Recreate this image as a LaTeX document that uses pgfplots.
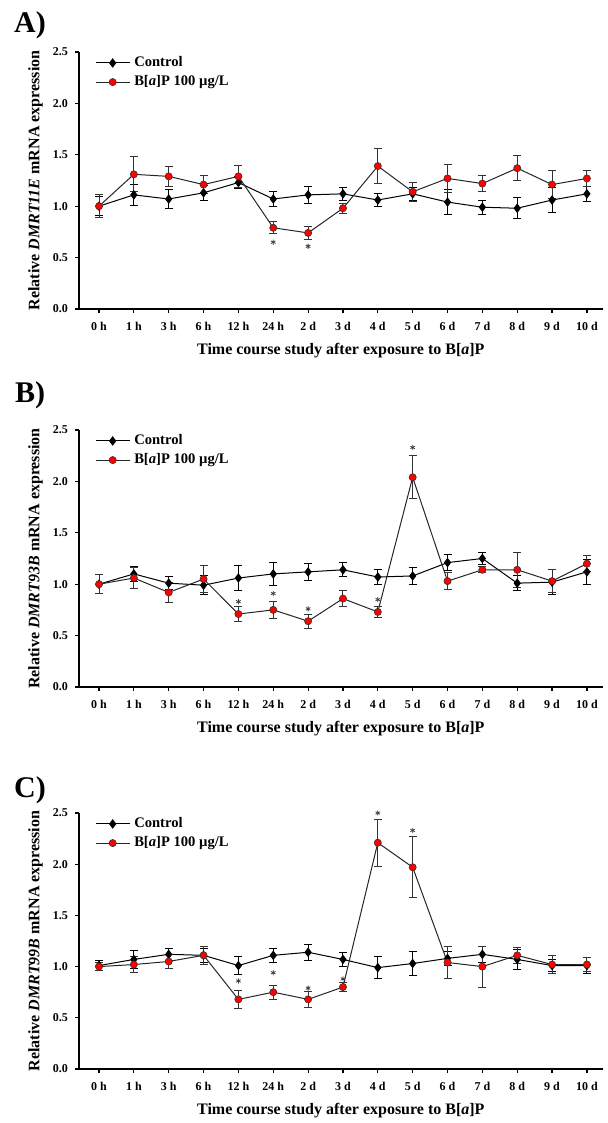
\documentclass[border=0pt]{standalone}
\usepackage{fontspec}
\setmainfont{Liberation Serif}
\usepackage{pgfplots}
\pgfplotsset{compat=1.18}
\usepackage{pgfplotstable}

\pgfplotstableread{
x  c     ce    r     re
0  1.00  0.09  1.00  0.11
1  1.11  0.10  1.31  0.17
2  1.07  0.09  1.29  0.10
3  1.13  0.07  1.21  0.09
4  1.23  0.06  1.29  0.11
5  1.07  0.07  0.79  0.06
6  1.11  0.08  0.74  0.06
7  1.12  0.06  0.98  0.05
8  1.06  0.06  1.39  0.17
9  1.12  0.06  1.14  0.09
10 1.04  0.12  1.27  0.14
11 0.99  0.07  1.22  0.08
12 0.98  0.10  1.37  0.12
13 1.06  0.12  1.21  0.14
14 1.12  0.07  1.27  0.08
}\dataA

\pgfplotstableread{
x  c     ce    r     re
0  1.00  0.09  1.00  0.09
1  1.10  0.07  1.06  0.10
2  1.01  0.06  0.92  0.10
3  0.99  0.09  1.05  0.13
4  1.06  0.12  0.71  0.07
5  1.10  0.11  0.75  0.08
6  1.12  0.08  0.64  0.07
7  1.14  0.07  0.86  0.08
8  1.07  0.07  0.73  0.05
9  1.08  0.08  2.04  0.21
10 1.21  0.08  1.03  0.08
11 1.25  0.06  1.14  0.03
12 1.01  0.07  1.14  0.17
13 1.02  0.12  1.03  0.11
14 1.12  0.12  1.20  0.08
}\dataB

\pgfplotstableread{
x  c     ce    r     re
0  1.01  0.05  1.00  0.04
1  1.07  0.09  1.02  0.08
2  1.12  0.06  1.05  0.07
3  1.11  0.07  1.11  0.09
4  1.01  0.09  0.68  0.09
5  1.11  0.07  0.75  0.07
6  1.14  0.08  0.68  0.08
7  1.07  0.07  0.80  0.04
8  0.99  0.11  2.21  0.23
9  1.03  0.12  1.97  0.30
10 1.08  0.07  1.04  0.16
11 1.12  0.08  1.00  0.20
12 1.07  0.10  1.11  0.08
13 1.01  0.06  1.02  0.09
14 1.01  0.08  1.02  0.07
}\dataC

\pgfplotsset{
  panel/.style={
    scale only axis, width=261.8pt,
    xmin=-0.574, xmax=14.45, ymin=0, ymax=2.5,
    axis x line*=bottom, axis y line*=left,
    axis line style={-, line width=1pt, black},
    xtick={0,...,14},
    xticklabels={0 h,1 h,3 h,6 h,12 h,24 h,2 d,3 d,4 d,5 d,6 d,7 d,8 d,9 d,10 d},
    ytick={0,0.5,1,1.5,2,2.5},
    yticklabels={0.0,0.5,1.0,1.5,2.0,2.5},
    tick align=outside, major tick length=2pt,
    tick style={black, line width=0.6pt},
    xticklabel style={font=\bfseries\fontsize{6}{7}\selectfont, yshift=-1pt},
    yticklabel style={font=\bfseries\fontsize{6}{7}\selectfont},
    xlabel style={at={(axis description cs:0.5,0)}, anchor=center, yshift=-21pt,
      font=\bfseries\fontsize{8}{9.6}\selectfont},
    ylabel style={at={(axis description cs:-0.083,0.5)}, anchor=center,
      font=\bfseries\fontsize{8}{9.6}\selectfont},
    xlabel={Time course study after exposure to B[\textit{a}]P},
    legend style={at={(axis description cs:0.03,1.0)}, anchor=north west,
      draw=none, fill=none, inner sep=0pt, row sep=-1pt,
      font=\bfseries\fontsize{7.3}{8.5}\selectfont},
    legend cell align=left,
    clip=false,
  },
  ctrl/.style={black, line width=0.5pt, mark=diamond*, mark size=2pt,
    mark options={fill=black, draw=black},
    error bars/.cd, y dir=both, y explicit,
    error bar style={line width=0.5pt, black},
    error mark options={rotate=90, mark size=2pt, line width=0.5pt, black}},
  bap/.style={black!85, line width=0.5pt, mark=*, mark size=1.8pt,
    mark options={fill=red, draw=black!80, line width=0.3pt},
    error bars/.cd, y dir=both, y explicit,
    error bar style={line width=0.5pt, black!80},
    error mark options={rotate=90, mark size=2pt, line width=0.5pt, black!80}},
  star/.style={only marks, mark=asterisk, mark size=1.3pt, black!75,
    mark options={line width=0.4pt}, forget plot},
}

\begin{document}
\begin{tikzpicture}
\useasboundingbox (0,0) rectangle (303.5pt,561.5pt);

% ---------- A ----------
\node[font=\bfseries\fontsize{15}{18}\selectfont] at (15pt,549pt) {A)};
\begin{axis}[panel, at={(39.5pt,407pt)}, anchor=south west, height=128.5pt,
  ylabel={Relative \textit{DMRT11E} mRNA expression}]
\addplot[ctrl] table[x=x, y=c, y error=ce] {\dataA};
\addlegendentry{Control}
\addplot[bap] table[x=x, y=r, y error=re] {\dataA};
\addlegendentry{B[\textit{a}]P 100 µg/L}
\addplot[star] coordinates {(5,0.65) (6,0.61)};
\end{axis}

% ---------- B ----------
\node[font=\bfseries\fontsize{15}{18}\selectfont] at (15pt,364pt) {B)};
\begin{axis}[panel, at={(39.5pt,218pt)}, anchor=south west, height=128.5pt,
  ylabel={Relative \textit{DMRT93B} mRNA expression}]
\addplot[ctrl] table[x=x, y=c, y error=ce] {\dataB};
\addlegendentry{Control}
\addplot[bap] table[x=x, y=r, y error=re] {\dataB};
\addlegendentry{B[\textit{a}]P 100 µg/L}
\addplot[star] coordinates {(4,0.83) (5,0.91) (6,0.76) (8,0.85) (9,2.33)};
\end{axis}

% ---------- C ----------
\node[font=\bfseries\fontsize{15}{18}\selectfont] at (15pt,166.5pt) {C)};
\begin{axis}[panel, at={(39.5pt,27pt)}, anchor=south west, height=128pt,
  ylabel={Relative \textit{DMRT99B} mRNA expression}]
\addplot[ctrl] table[x=x, y=c, y error=ce] {\dataC};
\addlegendentry{Control}
\addplot[bap] table[x=x, y=r, y error=re] {\dataC};
\addlegendentry{B[\textit{a}]P 100 µg/L}
\addplot[star] coordinates {(4,0.86) (5,0.94) (6,0.79) (7,0.88) (8,2.50) (9,2.33)};
\end{axis}
\end{tikzpicture}
\end{document}
